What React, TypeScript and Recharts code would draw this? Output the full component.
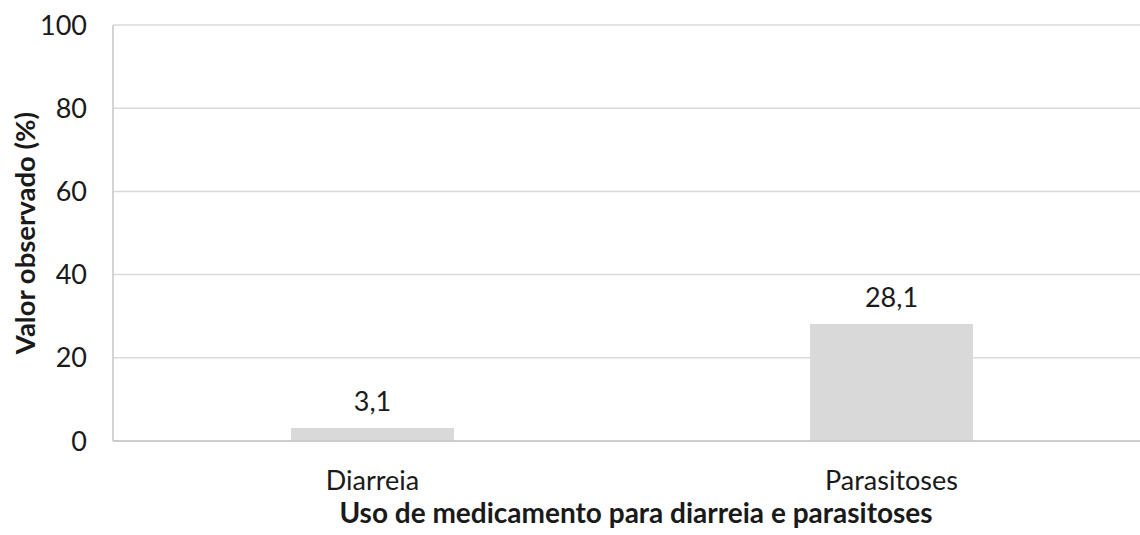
import React from "react"
import {
  BarChart,
  Bar,
  XAxis,
  YAxis,
  CartesianGrid,
  LabelList,
  Label,
} from "recharts"

const categories = ["Diarreia", "Parasitoses"]
const values = [3.1, 28.1]
const yTicks = [0, 20, 40, 60, 80, 100]

const xTitle = "Uso de medicamento para diarreia e parasitoses"
const yTitle = "Valor observado (%)"

const data = categories.map((name, i) => ({ name, value: values[i] }))

const FONT = "Lato, 'Open Sans', sans-serif"
const TEXT = "#1a1a1a"

const fmt = (v: any) => String(v).replace(".", ",")

export default function App() {
  return (
    <div
      style={{
        position: "fixed",
        top: 0,
        left: 0,
        width: 1140,
        height: 535,
        overflow: "hidden",
        background: "#fff",
      }}
    >
      <BarChart
        width={1151}
        height={535}
        data={data}
        margin={{ top: 25, right: 0, bottom: 0, left: 0 }}
        style={{ fontFamily: FONT }}
      >
        <CartesianGrid vertical={false} stroke="#d9d9d9" strokeWidth={1.5} />
        <XAxis
          dataKey="name"
          height={94}
          axisLine={{ stroke: "#c6c6c6", strokeWidth: 1.5 }}
          tickLine={false}
          tickMargin={24}
          tick={{ fill: TEXT, fontSize: 27 }}
        >
          <Label
            value={xTitle}
            position="insideBottom"
            offset={12}
            dx={4}
            style={{ fill: TEXT, fontSize: 28, fontWeight: 700 }}
          />
        </XAxis>
        <YAxis
          width={113}
          domain={[0, 100]}
          ticks={yTicks}
          interval={0}
          axisLine={{ stroke: "#c6c6c6", strokeWidth: 1.5 }}
          tickLine={false}
          tickMargin={20}
          tick={{ fill: TEXT, fontSize: 27 }}
        >
          <Label
            value={yTitle}
            angle={-90}
            position="center"
            dx={-31}
            style={{ fill: TEXT, fontSize: 27.5, fontWeight: 700, textAnchor: "middle" }}
          />
        </YAxis>
        <Bar dataKey="value" fill="#d9d9d9" barSize={163} isAnimationActive={false}>
          <LabelList
            dataKey="value"
            position="top"
            offset={17}
            formatter={fmt}
            style={{ fill: TEXT, fontSize: 27 }}
          />
        </Bar>
      </BarChart>
    </div>
  )
}
